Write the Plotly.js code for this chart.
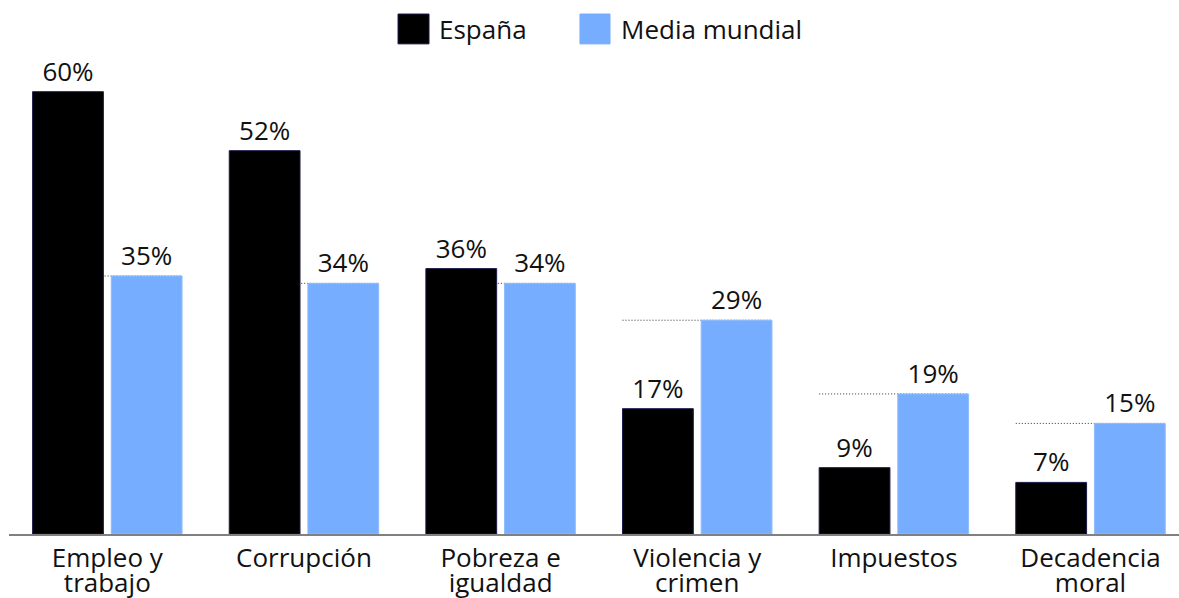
<!DOCTYPE html>
<html><head><meta charset="utf-8">
<script src="https://cdn.plot.ly/plotly-3.0.1.min.js"></script>
<style>html,body{margin:0;padding:0;background:#fff;}#chart{width:1179px;height:598px;}</style>
</head><body><div id="chart"></div>
<script>
const categories = ["Empleo y<br>trabajo", "Corrupción", "Pobreza e<br>igualdad", "Violencia y<br>crimen", "Impuestos", "Decadencia<br>moral"];
const espana = [60, 52, 36, 17, 9, 7];
const mundial = [35, 34, 34, 29, 19, 15];
const seriesNames = ["España", "Media mundial"];
const colors = ["#000000", "#76adff"];

const idx = categories.map((c, i) => i);
const FONT = "Open Sans, Noto Sans, sans-serif";

const traces = [
  {type: "bar", name: seriesNames[0], x: idx, y: espana, width: 0.36, offset: -0.38,
   marker: {color: colors[0], line: {color: "#1b1b4a", width: 1}},
   text: espana.map(v => v + "%"), textposition: "outside", cliponaxis: false,
   textfont: {family: FONT, size: 26, color: "#111"}, showlegend: false, hoverinfo: "skip"},
  {type: "bar", name: seriesNames[1], x: idx, y: mundial, width: 0.36, offset: 0.02,
   marker: {color: colors[1], line: {color: "#8fbcff", width: 1}},
   text: mundial.map(v => v + "%"), textposition: "outside", cliponaxis: false,
   textfont: {family: FONT, size: 26, color: "#111"}, showlegend: false, hoverinfo: "skip"}
];

const shapes = mundial.map((v, i) => ({
  type: "line", xref: "x", yref: "y", x0: i - 0.38, x1: i + 0.38, y0: v, y1: v,
  line: {color: "#333", width: 1, dash: "1px,2px"}, layer: "below"
}));
// legend squares (paper coords: plot area 9..1179 x, 60..534 y)
shapes.push({type: "rect", xref: "paper", yref: "paper", x0: 0.3325, x1: 0.3590, y0: 1.034, y1: 1.097,
  fillcolor: colors[0], line: {color: "#1b1b4a", width: 1}});
shapes.push({type: "rect", xref: "paper", yref: "paper", x0: 0.4880, x1: 0.5137, y0: 1.034, y1: 1.097,
  fillcolor: colors[1], line: {color: colors[1], width: 1}});

const annotations = [
  {xref: "paper", yref: "paper", x: 0.3660, y: 1.0654, xanchor: "left", yanchor: "middle", showarrow: false,
   text: seriesNames[0], font: {family: FONT, size: 26, color: "#111"}},
  {xref: "paper", yref: "paper", x: 0.5215, y: 1.0654, xanchor: "left", yanchor: "middle", showarrow: false,
   text: seriesNames[1], font: {family: FONT, size: 26, color: "#111"}}
];

const layout = {
  width: 1179, height: 598,
  margin: {l: 9, r: 0, t: 60, b: 64},
  paper_bgcolor: "#fff", plot_bgcolor: "#fff",
  barmode: "overlay",
  showlegend: false,
  xaxis: {range: [-0.5, 5.45], tickvals: idx, ticktext: categories, showgrid: false, zeroline: false,
    showline: true, linecolor: "#808080", linewidth: 2, ticks: "",
    tickfont: {family: FONT, size: 26, color: "#111"}, fixedrange: true},
  yaxis: {range: [0, 64.3], visible: false, showgrid: false, zeroline: false, fixedrange: true},
  shapes: shapes,
  annotations: annotations,
  font: {family: FONT}
};

Plotly.newPlot("chart", traces, layout, {displayModeBar: false, staticPlot: true}).then(function () {
  // tighten line spacing of the two-line category labels
  document.querySelectorAll(".xtick text tspan.line").forEach(function (t) {
    var dy = parseFloat(t.getAttribute("dy") || "0");
    if (dy) t.setAttribute("dy", (dy / 1.3 * 0.97) + "em");
  });
});
</script></body></html>
